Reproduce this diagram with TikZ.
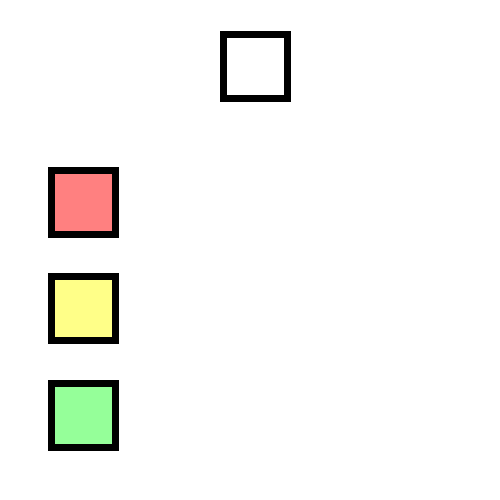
\documentclass[tikz,border=0pt]{standalone}
\definecolor{sqred}{HTML}{FF8080}
\definecolor{sqyellow}{HTML}{FFFF88}
\definecolor{sqgreen}{HTML}{95FF99}
\begin{document}
\begin{tikzpicture}[x=1pt,y=-1pt,
  sq/.style={draw=black,line width=7pt,minimum size=64pt,inner sep=0pt,outer sep=0pt}]
\useasboundingbox[fill=white] (0,0) rectangle (500,500);
\node[sq,fill=white] (top) at (255.5,67) {};
\node[sq,fill=sqred] (red) at (83.5,202) {};
\node[sq,fill=sqyellow] (yellow) at (83.5,308.5) {};
\node[sq,fill=sqgreen] (green) at (83.5,415) {};
\end{tikzpicture}
\end{document}
